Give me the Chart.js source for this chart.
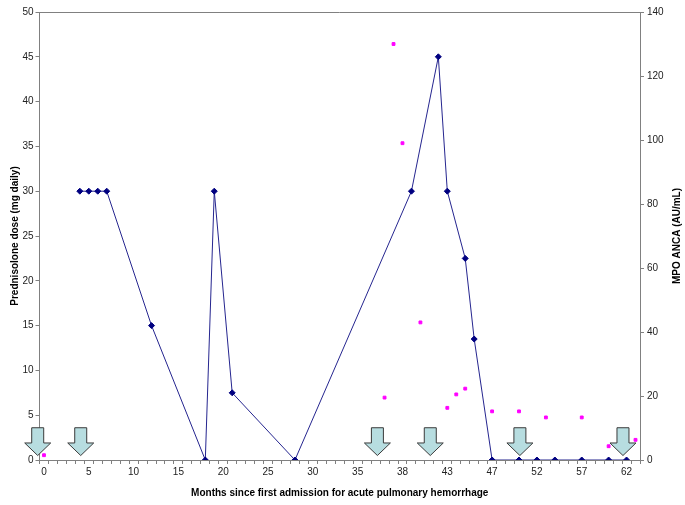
<!DOCTYPE html>
<html>
<head>
<meta charset="utf-8">
<script src="https://cdn.jsdelivr.net/npm/chart.js@4/dist/chart.umd.min.js"></script>
<style>
  html, body { margin: 0; padding: 0; background: #fff; }
  #wrap { width: 685px; height: 505px; }
</style>
</head>
<body>
<div id="wrap"><canvas id="myChart"></canvas></div>
<script>
// category labels (months), only every 5th one is printed
const monthLabels = ["0","1","2","3","4","5","6","7","8","9","10","11","12","13","14","15","16","17","18","19",
  "20","21","22","23","24","25","26","27","28","29","30","31","32","33","34","35","36","36.5","37","37.5",
  "38","39","40","41","42","43","44","45","45.5","46","47","48","49","50","51","52","53","54","55","56",
  "57","58","59","60","61","62","63"];

// prednisolone dose (mg daily)
const prednMonths = ["4","5","6","7","12","18","19","21","28","39","42","43","45","45.5","47","50","52","54","57","60","62"];
const prednDose   = [30, 30, 30, 30, 15, 0, 30, 7.5, 0, 30, 45, 30, 22.5, 13.5, 0, 0, 0, 0, 0, 0, 0];

// MPO ANCA (AU/mL)
const ancaMonths = ["0","37","37.5","38","40","43","44","45","47","50","53","57","60","63"];
const ancaValues = [1.5, 19.5, 130, 99, 43, 16.3, 20.5, 22.3, 15.2, 15.2, 13.3, 13.3, 4.3, 6.3];

// treatment arrows, position on the category axis (index)
const arrowPos = [-0.7, 4.1, 37.2, 43.1, 53.1, 64.6];

const font = "'Liberation Sans', Arial, sans-serif";
const axisGray = "#808080";

const extras = {
  id: "extras",
  afterDraw(c) {
    const ctx = c.ctx, a = c.chartArea;
    const x = c.scales.x, y = c.scales.y;
    ctx.save();
    // top border of plot area
    ctx.strokeStyle = axisGray;
    ctx.lineWidth = 1;
    ctx.beginPath();
    ctx.moveTo(a.left, a.top + 0.5);
    ctx.lineTo(a.right, a.top + 0.5);
    ctx.stroke();
    // down arrows
    ctx.fillStyle = "#b7dde0";
    ctx.strokeStyle = "#3a3a3a";
    arrowPos.forEach(p => {
      const cx = x.getPixelForValue(p);
      const top = y.getPixelForValue(3.6);
      const neck = y.getPixelForValue(1.9);
      const tip = y.getPixelForValue(0.5);
      ctx.beginPath();
      ctx.moveTo(cx - 6, top);
      ctx.lineTo(cx + 6, top);
      ctx.lineTo(cx + 6, neck);
      ctx.lineTo(cx + 13, neck);
      ctx.lineTo(cx, tip);
      ctx.lineTo(cx - 13, neck);
      ctx.lineTo(cx - 6, neck);
      ctx.closePath();
      ctx.fill();
      ctx.stroke();
    });
    // right axis title, reading upwards like the left one
    ctx.translate(677, (a.top + a.bottom) / 2);
    ctx.rotate(-Math.PI / 2);
    ctx.fillStyle = "#000";
    ctx.font = "bold 10px " + font;
    ctx.textAlign = "center";
    ctx.textBaseline = "middle";
    ctx.fillText("MPO ANCA (AU/mL)", 0, 0);
    ctx.restore();
  }
};

new Chart(document.querySelector("#myChart"), {
  type: "line",
  data: {
    labels: monthLabels,
    datasets: [
      {
        label: "Prednisolone",
        data: prednMonths.map((m, i) => ({ x: m, y: prednDose[i] })),
        borderColor: "#25258f",
        borderWidth: 1,
        pointStyle: "rectRot",
        pointRadius: 3,
        pointBackgroundColor: "#000080",
        pointBorderColor: "#000080",
        yAxisID: "y",
        tension: 0
      },
      {
        label: "MPO ANCA",
        data: ancaMonths.map((m, i) => ({ x: m, y: ancaValues[i] })),
        showLine: false,
        pointStyle: "rect",
        pointRadius: 2,
        pointBackgroundColor: "#ff00ff",
        pointBorderColor: "#ff00ff",
        yAxisID: "y1"
      }
    ]
  },
  options: {
    responsive: true,
    maintainAspectRatio: false,
    animation: false,
    layout: { padding: { top: 12, left: 0, right: 0, bottom: 0 } },
    plugins: { legend: { display: false }, tooltip: { enabled: false } },
    scales: {
      x: {
        type: "category",
        offset: true,
        grid: { drawOnChartArea: false, offset: true, tickLength: 4, color: axisGray },
        border: { color: axisGray },
        ticks: {
          autoSkip: false, maxRotation: 0, padding: 2,
          callback: (v, i) => (i % 5 === 0 ? monthLabels[i] : ""),
          font: { family: font, size: 10 }, color: "#222"
        },
        title: {
          display: true,
          text: "Months since first admission for acute pulmonary hemorrhage",
          font: { family: font, size: 10, weight: "bold" }, color: "#000",
          padding: { top: 6, bottom: 6 }
        },
        afterFit: s => { s.height = 45; }
      },
      y: {
        position: "left",
        min: 0, max: 50,
        grid: { drawOnChartArea: false, tickLength: 4, color: axisGray },
        border: { color: axisGray },
        ticks: { stepSize: 5, padding: 2, font: { family: font, size: 10 }, color: "#222" },
        title: {
          display: true,
          text: "Prednisolone dose (mg daily)",
          font: { family: font, size: 10, weight: "bold" }, color: "#000",
          padding: { top: 9, bottom: 0 }
        },
        afterFit: s => { s.width = 39.5; }
      },
      y1: {
        position: "right",
        min: 0, max: 140,
        grid: { drawOnChartArea: false, tickLength: 4, color: axisGray },
        border: { color: axisGray },
        ticks: { stepSize: 20, padding: 3, font: { family: font, size: 10 }, color: "#222" },
        afterFit: s => { s.width = 45; }
      }
    }
  },
  plugins: [extras]
});
</script>
</body>
</html>
